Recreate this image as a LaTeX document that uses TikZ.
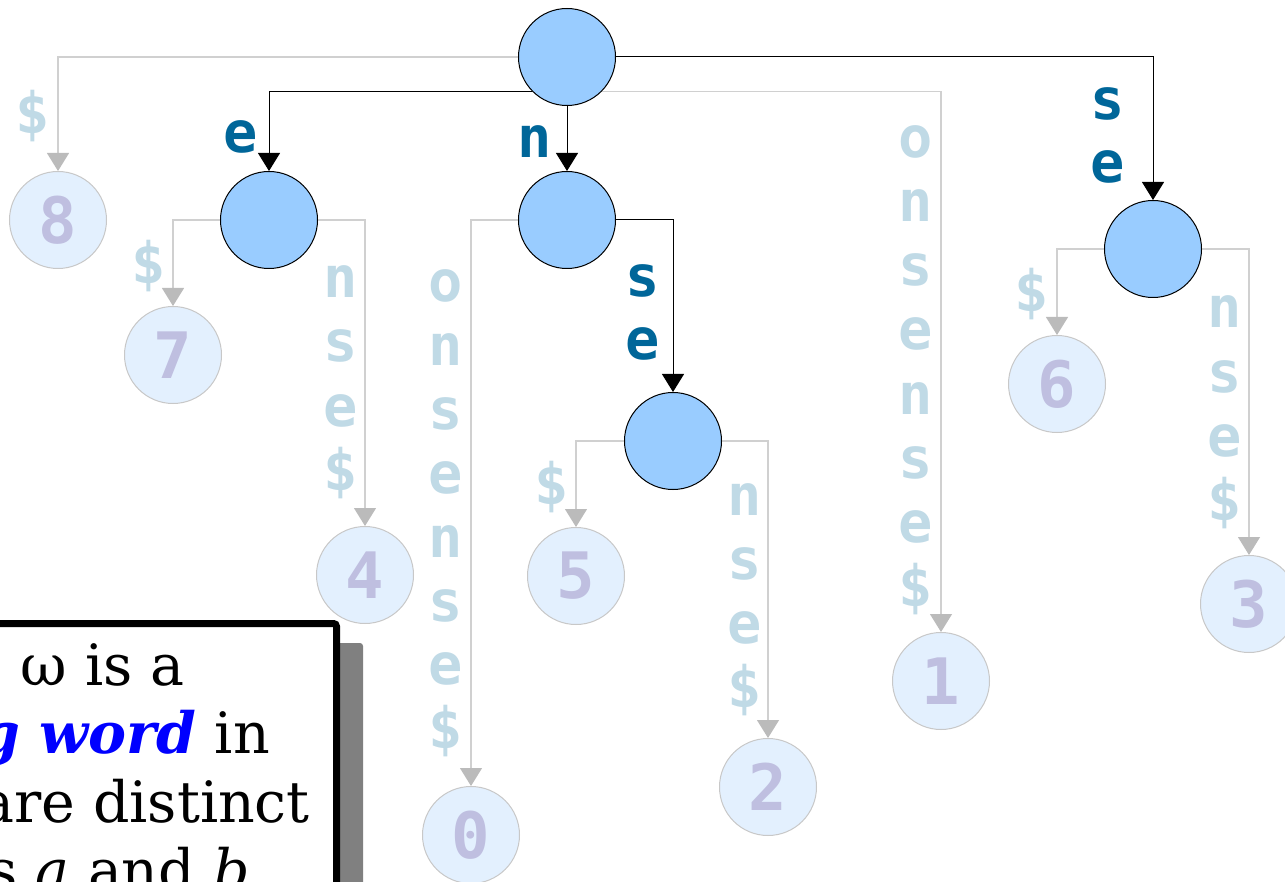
\documentclass[tikz,border=0pt]{standalone}
\usepackage{fontspec}
\setmainfont{DejaVu Serif}
\newfontfamily\labfont{DejaVu Sans Mono}
\usetikzlibrary{arrows.meta}
\definecolor{innerblue}{HTML}{99CCFF}
\definecolor{leaffill}{HTML}{E3F0FE}
\definecolor{leafline}{HTML}{C8C8C8}
\definecolor{digitcol}{HTML}{BFBFE0}
\definecolor{edgelight}{HTML}{D0D0D0}
\definecolor{arrowgray}{HTML}{BBBBBB}
\definecolor{lablight}{HTML}{C0DAE6}
\definecolor{labdark}{HTML}{006699}
\definecolor{shadowgray}{HTML}{808080}
\begin{document}
\begin{tikzpicture}[x=1pt,y=-1pt,
  inode/.style={circle, draw=black, line width=1pt, fill=innerblue, minimum size=97pt, inner sep=0pt},
  leaf/.style={circle, draw=leafline, line width=1pt, fill=leaffill, minimum size=97pt, inner sep=0pt,
    text=digitcol, font=\labfont\bfseries\fontsize{64}{64}\selectfont},
  ledge/.style={draw=edgelight, line width=1.2pt, -{Triangle[width=22pt,length=18pt,color=arrowgray]}},
  dedge/.style={draw=black, line width=1pt, -{Triangle[width=22pt,length=18pt,color=black]}},
  llab/.style={text=lablight, font=\labfont\bfseries\fontsize{57}{57}\selectfont, anchor=base, inner sep=0pt},
  dlab/.style={llab, text=labdark},
  boxtext/.style={anchor=base east, inner sep=0pt, font=\fontsize{57}{60}\selectfont}
]
\useasboundingbox (0,0) rectangle (1285,882);

% internal nodes
\node[inode] (R) at (567,57) {};
\node[inode] (E) at (269,220) {};
\node[inode] (N) at (567,220) {};
\node[inode] (NSE) at (673,441) {};
\node[inode] (SE) at (1153,249) {};

% leaves
\node[leaf] (n8) at (58,220) {8};
\node[leaf] (n7) at (173,355) {7};
\node[leaf] (n4) at (365,575) {4};
\node[leaf] (n0) at (471,835) {0};
\node[leaf] (n5) at (576,576) {5};
\node[leaf] (n2) at (768,787) {2};
\node[leaf] (n1) at (941,681) {1};
\node[leaf] (n6) at (1057,384) {6};
\node[leaf] (n3) at (1249,604) {3};

% edges
\draw[ledge] (R.west) -| (n8.north);
\draw[dedge] (R.south west) -| (E.north);
\draw[dedge] (R.south) -- (N.north);
\draw[ledge] (R.south east) -| (n1.north);
\draw[dedge] (R.east) -| (SE.north);
\draw[ledge] (E.west) -| (n7.north);
\draw[ledge] (E.east) -| (n4.north);
\draw[ledge] (N.west) -| (n0.north);
\draw[dedge] (N.east) -| (NSE.north);
\draw[ledge] (NSE.west) -| (n5.north);
\draw[ledge] (NSE.east) -| (n2.north);
\draw[ledge] (SE.west) -| (n6.north);
\draw[ledge] (SE.east) -| (n3.north);

% edge labels
\node[llab] (l8) at (33,134) {\$};
\node[dlab] (le) at (241,153) {e};
\node[dlab] (ln) at (535,158) {n};
\foreach \c [count=\i from 0] in {s,e} \node[dlab] (lse-\i) at (1108,120+63*\i) {\c};
\foreach \c [count=\i from 0] in {o,n,s,e,n,s,e,\$} \node[llab] (l1-\i) at (916,158+64*\i) {\c};
\node[llab] (l7) at (149,284) {\$};
\foreach \c [count=\i from 0] in {n,s,e,\$} \node[llab] (l4-\i) at (341,298+64*\i) {\c};
\foreach \c [count=\i from 0] in {o,n,s,e,n,s,e,\$} \node[llab] (l0-\i) at (446,302+63.8*\i) {\c};
\foreach \c [count=\i from 0] in {s,e} \node[dlab] (lnse-\i) at (643,297+63*\i) {\c};
\node[llab] (l5) at (552,504) {\$};
\foreach \c [count=\i from 0] in {n,s,e,\$} \node[llab] (l2-\i) at (745,515+64*\i) {\c};
\node[llab] (l6) at (1032,312) {\$};
\foreach \c [count=\i from 0] in {n,s,e,\$} \node[llab] (l3-\i) at (1225,328+64*\i) {\c};

% text box
\fill[shadowgray, rounded corners=3pt] (-80,643) rectangle (363,1000);
\draw[black, line width=7pt, fill=white, rounded corners=3pt] (-100,623.5) rectangle (336.5,1000);
\node[boxtext] (t1) at (185,685) {A string ω is a};
\node[boxtext] (t2) at (270,753) {{\color{blue}\bfseries\itshape branching word} in};
\node[boxtext] (t3) at (310,822) {there are distinct};
\node[boxtext] (t4) at (250,890) {characters \textit{a} and \textit{b}};
\end{tikzpicture}
\end{document}
